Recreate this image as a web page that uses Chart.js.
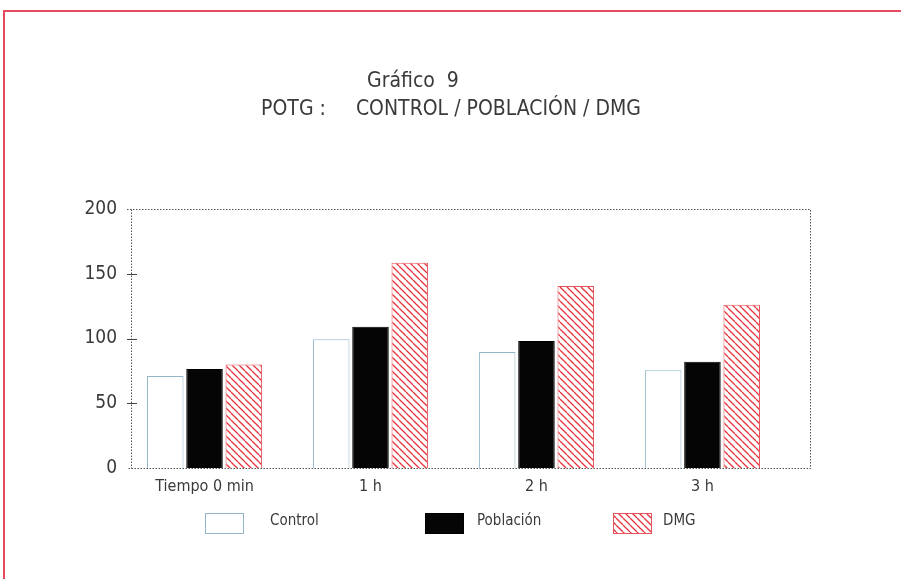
<!DOCTYPE html>
<html>
<head>
<meta charset="utf-8">
<script src="https://cdn.jsdelivr.net/npm/chart.js@4"></script>
<style>
  html, body { margin: 0; padding: 0; background: #fff; overflow: hidden; }
  #wrap { position: relative; width: 901px; height: 579px; }
  #frame {
    position: absolute; left: 3px; top: 10px; width: 1200px; height: 900px;
    border-top: 2px solid #e64a5e; border-left: 2px solid #e64a5e;
    box-sizing: border-box;
  }
  #c { position: absolute; left: 0; top: 0; }
</style>
</head>
<body>
<div id="wrap">
  <div id="frame"></div>
  <canvas id="c" width="901" height="579"></canvas>
</div>
<script>
// Glucose tolerance test: mean values per group and time point
const categories = ['Tiempo 0 min', '1 h', '2 h', '3 h'];
const controlValues = [71, 99.5, 89.5, 75.5];
const poblacionValues = [76.5, 109, 98, 82];
const dmgValues = [80, 158.5, 140.5, 126];
const yTickValues = [0, 50, 100, 150, 200];
const seriesNames = ['Control', 'Población', 'DMG'];
const titleLines = ['Gráfico  9', 'POTG :     CONTROL / POBLACIÓN / DMG'];

const FONT = "'DejaVu Sans Condensed', 'Liberation Sans Narrow', 'Liberation Sans', sans-serif";
const INK = '#3a3a3a';

// Red diagonal hatching for the DMG series
function makeHatch() {
  const s = 7;
  const p = document.createElement('canvas');
  p.width = s; p.height = s;
  const g = p.getContext('2d');
  g.fillStyle = '#ffffff';
  g.fillRect(0, 0, s, s);
  g.strokeStyle = '#e8343c';
  g.lineWidth = 1.3;
  for (let k = -1; k <= 1; k++) {
    g.beginPath();
    g.moveTo(k * s, 0);
    g.lineTo(k * s + s, s);
    g.stroke();
  }
  return g.createPattern(p, 'repeat');
}
const hatch = makeHatch();

function points(values) {
  return values.map((v, i) => ({ x: i, y: v }));
}

// Heading lines
const headingPlugin = {
  id: 'headings',
  afterDraw(chart) {
    const ctx = chart.ctx;
    ctx.save();
    ctx.fillStyle = INK;
    ctx.textBaseline = 'middle';
    ctx.font = '21px ' + FONT;
    ctx.textAlign = 'left';
    ctx.fillText(titleLines[0], 367, 82);
    ctx.textAlign = 'center';
    ctx.fillText(titleLines[1], 451, 110);
    ctx.restore();
  }
};

// Dotted plot frame and y tick marks crossing the axis
const framePlugin = {
  id: 'plotFrame',
  afterDatasetsDraw(chart) {
    const { ctx, chartArea: a, scales } = chart;
    ctx.save();
    ctx.strokeStyle = '#555555';
    ctx.lineWidth = 1;
    ctx.setLineDash([1.5, 1.5]);
    const yTop = scales.y.getPixelForValue(200);
    const yBot = scales.y.getPixelForValue(0);
    ctx.beginPath();
    ctx.moveTo(a.left - 4, Math.round(yTop) + 0.5);
    ctx.lineTo(a.right + 0.5, Math.round(yTop) + 0.5);
    ctx.lineTo(a.right + 0.5, Math.round(yBot) + 0.5);
    ctx.lineTo(a.left - 4, Math.round(yBot) + 0.5);
    ctx.moveTo(a.left + 0.5, Math.round(yTop) + 0.5);
    ctx.lineTo(a.left + 0.5, Math.round(yBot) + 0.5);
    ctx.stroke();
    ctx.setLineDash([]);
    ctx.strokeStyle = '#444444';
    ctx.beginPath();
    yTickValues.forEach(v => {
      if (v === 0 || v === 200) return;
      const y = Math.round(scales.y.getPixelForValue(v)) + 0.5;
      ctx.moveTo(a.left - 4, y);
      ctx.lineTo(a.left + 6, y);
    });
    ctx.stroke();
    ctx.restore();
  }
};

// Legend row below the axis
const legendSlots = [
  { box: 205, text: 270 },
  { box: 425, text: 477 },
  { box: 613, text: 663 }
];
const legendPlugin = {
  id: 'legendRow',
  afterDraw(chart) {
    const ctx = chart.ctx;
    ctx.save();
    chart.data.datasets.forEach((ds, i) => {
      const s = legendSlots[i];
      ctx.fillStyle = ds.backgroundColor;
      ctx.fillRect(s.box, 513, 38, 20);
      ctx.strokeStyle = ds.borderColor;
      ctx.lineWidth = 1;
      ctx.strokeRect(s.box + 0.5, 513.5, 38, 20);
      ctx.fillStyle = INK;
      ctx.font = '15px ' + FONT;
      ctx.textAlign = 'left';
      ctx.textBaseline = 'middle';
      ctx.fillText(ds.label, s.text, 521);
    });
    ctx.restore();
  }
};

new Chart(document.getElementById('c'), {
  type: 'bar',
  data: {
    datasets: [
      { label: seriesNames[0], data: points(controlValues), backgroundColor: '#ffffff', borderColor: '#92b6c8', borderWidth: 1 },
      { label: seriesNames[1], data: points(poblacionValues), backgroundColor: '#050505', borderColor: '#000000', borderWidth: 1 },
      { label: seriesNames[2], data: points(dmgValues), backgroundColor: hatch, borderColor: '#e8545c', borderWidth: 1 }
    ]
  },
  options: {
    responsive: false,
    devicePixelRatio: 1,
    animation: false,
    layout: { padding: { top: 209, right: 91, left: 0, bottom: 0 } },
    datasets: { bar: { categoryPercentage: 0.71, barPercentage: 0.93 } },
    plugins: { legend: { display: false }, title: { display: false }, tooltip: { enabled: false } },
    scales: {
      x: {
        type: 'linear',
        offset: false,
        min: -0.443,
        max: 3.648,
        grid: { display: false, drawTicks: false, offset: false },
        border: { display: false },
        afterBuildTicks(scale) { scale.ticks = categories.map((c, i) => ({ value: i })); },
        afterFit(scale) { scale.height = 111; },
        ticks: {
          padding: 9,
          color: INK,
          font: { family: FONT, size: 16 },
          maxRotation: 0,
          autoSkip: false,
          callback: (v) => categories[v]
        }
      },
      y: {
        min: 0,
        max: 200,
        grid: { display: false, drawTicks: false },
        border: { display: false },
        afterBuildTicks(scale) { scale.ticks = yTickValues.map(v => ({ value: v })); },
        afterFit(scale) { scale.width = 131; },
        ticks: {
          padding: 14,
          color: INK,
          font: { family: FONT, size: 19 }
        }
      }
    }
  },
  plugins: [headingPlugin, framePlugin, legendPlugin]
});
</script>
</body>
</html>
